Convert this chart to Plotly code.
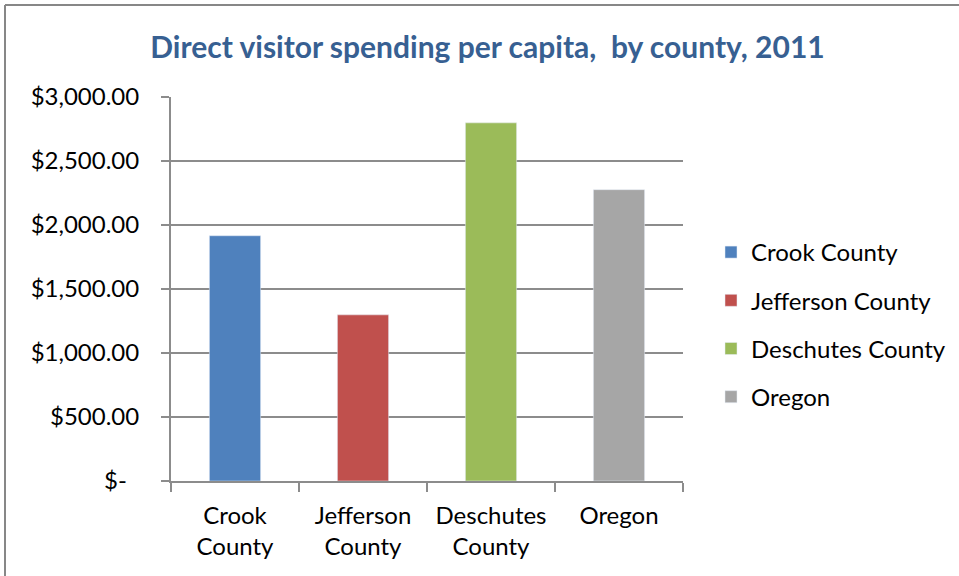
import plotly.graph_objects as go

categories = ["Crook<br>County", "Jefferson<br>County", "Deschutes<br>County", "Oregon"]
legend_names = ["Crook County", "Jefferson County", "Deschutes County", "Oregon"]
values = [1916, 1298, 2798, 2276]
colors = ["#4F81BD", "#C0504D", "#9BBB59", "#A6A6A6"]
tick_vals = [0, 500, 1000, 1500, 2000, 2500, 3000]
tick_text = ["$-  ", "$500.00", "$1,000.00", "$1,500.00", "$2,000.00", "$2,500.00", "$3,000.00"]

FONT = "Lato"
fig = go.Figure()
for cat, name, v, c in zip(categories, legend_names, values, colors):
    fig.add_trace(go.Bar(x=[cat], y=[v], name=name, marker_color=c, width=0.4,
                         legendgroup=name))

grid = "#8C8C8C"
fig.update_layout(
    width=959, height=576,
    margin=dict(l=171, r=276, t=97, b=95),
    paper_bgcolor="white", plot_bgcolor="white",
    barmode="overlay",
    title=dict(text="<b>Direct visitor spending per capita,  by county, 2011</b>",
               x=(153 + 822) / 2 / 959, xanchor="center", y=1 - 47 / 576, yanchor="middle",
               font=dict(family=FONT, size=30, color="#376092")),
    font=dict(family=FONT, size=24, color="black"),
    xaxis=dict(categoryorder="array", categoryarray=categories,
               showline=True, linecolor=grid, linewidth=2,
               ticks="outside", tickson="boundaries", ticklen=9, tickcolor=grid, tickwidth=2,
               showgrid=False, tickfont=dict(size=24), ticklabelstandoff=12),
    yaxis=dict(range=[0, 3000], tickvals=tick_vals, ticktext=tick_text,
               showline=True, linecolor=grid, linewidth=2,
               ticks="outside", ticklen=8, tickcolor=grid, tickwidth=2,
               showgrid=True, gridcolor=grid, gridwidth=2, zeroline=False,
               ticklabelstandoff=17, tickfont=dict(size=24)),
    legend=dict(x=711 / 959, xref="container", y=(576 - 230) / 576, yref="container",
                xanchor="left", yanchor="top", traceorder="grouped", tracegroupgap=14,
                font=dict(size=24), itemwidth=30),
    showlegend=True,
    shapes=[dict(type="line", xref="paper", yref="paper",
                 x0=(5 - 171) / 512, x1=(5 - 171) / 512, y0=1 + 92 / 384, y1=-1,
                 line=dict(color="#878787", width=2)),
            dict(type="line", xref="paper", yref="paper",
                 x0=(5 - 171) / 512, x1=2, y0=1 + 92 / 384, y1=1 + 92 / 384,
                 line=dict(color="#878787", width=2))],
)
fig.write_html("out.html")
